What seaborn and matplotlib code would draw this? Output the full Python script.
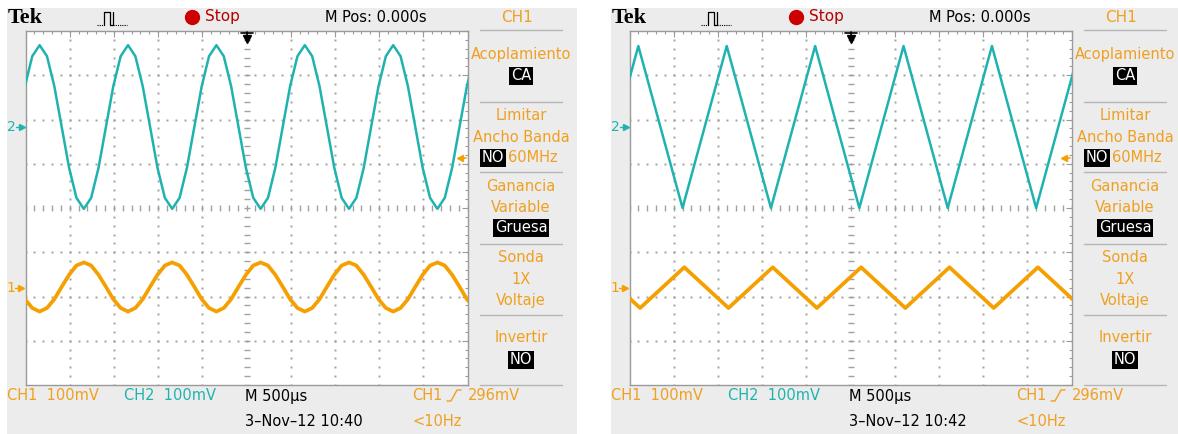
import numpy as np
import matplotlib
matplotlib.use("Agg")
import matplotlib.pyplot as plt
from matplotlib.lines import Line2D
from matplotlib.patches import Rectangle
import seaborn as sns

# scope settings read from the screens
volts_div = 100      # mV per division, both channels
time_div = 0.5       # ms per division (500 us)
ch2_pos = 1.83       # channel ground markers, in divisions from centre
ch1_pos = -1.86
dates = ["3-Nov-12 10:40", "3-Nov-12 10:42"]

# screen 1: sine record, one sample every 1/12 ms starting at -2.507 ms
sine_t0 = -2.507
sine_dt = 1 / 12
sine_ch2_mv = [92, 160,
               185, 160, 92, 0, -92, -160, -185, -160, -92, 0, 92, 160,
               185, 160, 92, 0, -92, -160, -185, -160, -92, 0, 92, 160,
               185, 160, 92, 0, -92, -160, -185, -160, -92, 0, 92, 160,
               185, 160, 92, 0, -92, -160, -185, -160, -92, 0, 92, 160,
               185, 160, 92, 0, -92, -160, -185, -160, -92, 0, 92, 160]
sine_ch1_mv = [-20, -40,
               -48, -40, -20, 8, 35, 56, 63, 56, 35, 8, -20, -40,
               -48, -40, -20, 8, 35, 56, 63, 56, 35, 8, -20, -40,
               -48, -40, -20, 8, 35, 56, 63, 56, 35, 8, -20, -40,
               -48, -40, -20, 8, 35, 56, 63, 56, 35, 8, -20, -40,
               -48, -40, -20, 8, 35, 56, 63, 56, 35, 8, -20, -40]

# screen 2: triangle record, corner points (ms, mV)
tri_ch2_t = [-2.9, -2.4, -1.9, -1.4, -0.9, -0.4, 0.1, 0.6, 1.1, 1.6, 2.1, 2.6]
tri_ch2_mv = [-183, 183, -183, 183, -183, 183, -183, 183, -183, 183, -183, 183]
tri_ch1_t = [-2.88, -2.38, -1.88, -1.38, -0.88, -0.38, 0.12, 0.62, 1.12, 1.62, 2.12, 2.62]
tri_ch1_mv = [52, -40, 52, -40, 52, -40, 52, -40, 52, -40, 52, -40]

side_text = ["Acoplamiento", "Limitar", "Ancho Banda", "Ganancia", "Variable",
             "Sonda", "1X", "Voltaje", "Invertir"]
side_y = [55, 115, 137, 187, 207, 257, 280, 300, 338]
side_boxed = ["CA", "Gruesa", "NO"]
side_boxed_y = [76, 228, 360]

sns.set_style("white")
plt.rcParams["font.family"] = ["DejaVu Sans"]

ORANGE = "#f5a000"
ORANGE_TXT = "#f0a020"
TEAL = "#1fb3b0"
GRID = "#a0a0a0"
BG = "#ececec"

W, H = 1178, 434
fig = plt.figure(figsize=(W / 100, H / 100), dpi=100)
fig.patch.set_facecolor("white")


def fx(x):
    return x / W


def fy(y):
    return 1 - y / H


def txt(x, y, s, color="black", size=10.5, ha="left", box=False, **kw):
    bbox = None
    if box:
        bbox = dict(boxstyle="square,pad=0.12", facecolor="black", edgecolor="none")
        color = "white"
    fig.text(fx(x), fy(y), s, color=color, fontsize=size, ha=ha, va="center",
             bbox=bbox, **kw)


def pline(xs, ys, **kw):
    fig.add_artist(Line2D([fx(v) for v in xs], [fy(v) for v in ys], **kw))


sine_t = sine_t0 + sine_dt * np.arange(len(sine_ch2_mv))
panels = [
    dict(dx=0, date=dates[0], ch2=(sine_t, sine_ch2_mv), ch1=(sine_t, sine_ch1_mv)),
    dict(dx=604, date=dates[1], ch2=(tri_ch2_t, tri_ch2_mv), ch1=(tri_ch1_t, tri_ch1_mv)),
]

for p in panels:
    dx = p["dx"]
    fig.add_artist(Rectangle((fx(7 + dx), 0), (570) / W, fy(8),
                             transform=fig.transFigure, facecolor=BG,
                             edgecolor="none", zorder=0))

    # screen
    ax = fig.add_axes([fx(25.5 + dx), fy(385), 442 / W, 354 / H])
    ax.set_facecolor("white")
    ax.set_xlim(-5 * time_div, 5 * time_div)
    ax.set_ylim(-4, 4)
    xmaj = np.arange(-5, 6) * time_div
    ymaj = np.arange(-4, 5)
    xmin = np.arange(-25, 26) * time_div / 5
    ymin = np.arange(-20, 21) / 5
    ax.set_xticks(xmaj)
    ax.set_yticks(ymaj)
    ax.set_xticks(xmin, minor=True)
    ax.set_yticks(ymin, minor=True)
    ax.tick_params(which="both", direction="in", top=True, right=True,
                   labelbottom=False, labelleft=False, color="#9a9a9a", width=0.8)
    ax.tick_params(which="major", length=4)
    ax.tick_params(which="minor", length=2.5)
    for s in ax.spines.values():
        s.set_color("#9a9a9a")
        s.set_linewidth(1)

    # dotted graticule
    for gx in xmaj[1:-1]:
        if abs(gx) > 1e-9:
            ax.plot(np.full(len(ymin), gx), ymin, ls="none", marker="s", ms=1.4,
                    mew=0, color=GRID, zorder=1)
    for gy in ymaj[1:-1]:
        if gy != 0:
            ax.plot(xmin, np.full(len(xmin), gy), ls="none", marker="s", ms=1.4,
                    mew=0, color=GRID, zorder=1)
    ax.plot(np.zeros(len(ymin)), ymin, ls="none", marker="_", ms=4, mew=1,
            color=GRID, zorder=1)
    ax.plot(xmin, np.zeros(len(xmin)), ls="none", marker="|", ms=4, mew=1,
            color=GRID, zorder=1)

    t2, v2 = p["ch2"]
    t1, v1 = p["ch1"]
    sns.lineplot(x=np.asarray(t2), y=ch2_pos + np.asarray(v2) / volts_div, ax=ax,
                 color=TEAL, linewidth=1.8, estimator=None, sort=False, zorder=3)
    sns.lineplot(x=np.asarray(t1), y=ch1_pos + np.asarray(v1) / volts_div, ax=ax,
                 color=ORANGE, linewidth=2.7, estimator=None, sort=False, zorder=3)
    ax.set_xlabel("")
    ax.set_ylabel("")

    # channel markers
    y2 = 208 - ch2_pos * 44.2
    y1 = 208 - ch1_pos * 44.2 - 2
    txt(7 + dx, y2, "2", color=TEAL, size=10)
    pline([16 + dx, 22 + dx], [y2, y2], color=TEAL, lw=1)
    pline([22 + dx], [y2], marker=">", ms=4, color=TEAL, lw=0)
    txt(6 + dx, y1, "1", color=ORANGE, size=10)
    pline([15 + dx, 21 + dx], [y1, y1], color=ORANGE, lw=1)
    pline([21 + dx], [y1], marker=">", ms=4, color=ORANGE, lw=0)

    # trigger position and level
    pline([247 + dx, 247 + dx], [32, 40], color="black", lw=1.2)
    pline([241 + dx, 253 + dx], [33, 33], color="black", lw=1.2)
    pline([247 + dx], [39], marker="v", ms=6, color="black", lw=0)
    pline([459 + dx, 466 + dx], [158, 158], color=ORANGE, lw=1.2)
    pline([460 + dx], [158], marker="<", ms=5, color=ORANGE, lw=0)

    # top bar
    txt(8 + dx, 18, "Tek", size=16, fontweight="bold", family="Liberation Serif")
    pline([97 + dx, 104 + dx], [25, 25], color="black", lw=0.8, ls=(0, (1, 1)))
    pline([104 + dx, 104 + dx, 110 + dx, 110 + dx, 113 + dx, 113 + dx],
          [25, 12, 12, 25, 25, 12], color="black", lw=0.9)
    pline([113 + dx, 127 + dx], [25, 25], color="black", lw=0.8, ls=(0, (1, 1)))
    pline([192 + dx], [17], marker="o", ms=10, color="#cc0000", lw=0)
    txt(205 + dx, 17, "Stop", color="#b40000", size=11)
    txt(325 + dx, 17, "M Pos: 0.000s", size=10.5)

    # side menu
    cx = 521 + dx
    txt(cx - 4, 17, "CH1", color=ORANGE_TXT, size=11, ha="center")
    for sy in [30, 102, 172, 244, 315, 385]:
        pline([cx - 41, cx + 41], [sy, sy], color="#b5b5b5", lw=1)
    for s, sy in zip(side_text, side_y):
        txt(cx, sy, s, color=ORANGE_TXT, ha="center")
    for s, sy in zip(side_boxed, side_boxed_y):
        txt(cx, sy, s, ha="center", box=True)
    txt(493 + dx, 158, "NO", ha="center", box=True)
    txt(508 + dx, 158, "60MHz", color=ORANGE_TXT)

    # bottom readouts
    txt(7 + dx, 396, "CH1  100mV", color=ORANGE_TXT)
    txt(124 + dx, 396, "CH2  100mV", color=TEAL)
    txt(245 + dx, 396, "M 500\u00b5s")
    txt(245 + dx, 422, p["date"].replace("-", "\u2013"))
    txt(412 + dx, 396, "CH1", color=ORANGE_TXT)
    pline([447 + dx, 451 + dx, 457 + dx, 461 + dx], [401, 401, 390, 390],
          color=ORANGE_TXT, lw=1)
    txt(468 + dx, 396, "296mV", color=ORANGE_TXT)
    txt(412 + dx, 422, "<10Hz", color=ORANGE_TXT)

fig.savefig("out.png", dpi=100)
